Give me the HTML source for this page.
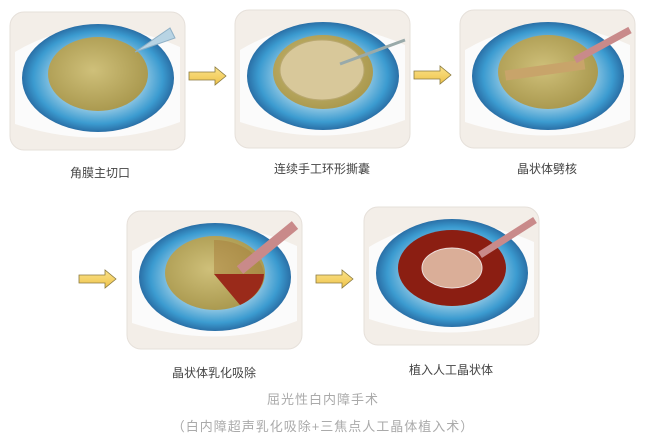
<!DOCTYPE html>
<html><head><meta charset="utf-8"><style>
body{margin:0;width:646px;height:448px;background:#fff;overflow:hidden;position:relative;font-family:"Liberation Sans","Noto Sans CJK SC",sans-serif}
.l{position:absolute;font-size:12px;color:#444;text-align:center;width:200px}
.c{position:absolute;font-size:13px;color:#aaa;text-align:center;width:646px;left:0;letter-spacing:1px}
svg{position:absolute;left:0;top:0}
</style></head><body>
<svg width="646" height="448">
<defs>
<radialGradient id="ir" cx="50%" cy="50%" r="50%"><stop offset="55%" stop-color="#9ccde6"/><stop offset="85%" stop-color="#3b9bd0"/><stop offset="100%" stop-color="#2a6fa6"/></radialGradient>
<radialGradient id="pu" cx="45%" cy="45%" r="55%"><stop offset="0%" stop-color="#cfc07a"/><stop offset="100%" stop-color="#ab9a50"/></radialGradient>
<linearGradient id="ar" x1="0" y1="0" x2="0" y2="1"><stop offset="0" stop-color="#fbe38a"/><stop offset="1" stop-color="#eec24a"/></linearGradient>
<g id="eye">
<rect x="0" y="0" width="175" height="138" rx="14" fill="#f3eee8" stroke="#e6e0da"/>
<path d="M5 40 Q80 -5 170 35 L170 110 Q90 140 5 112Z" fill="#fbfbfb"/>
<ellipse cx="88" cy="66" rx="76" ry="54" fill="url(#ir)"/>
<ellipse cx="88" cy="62" rx="50" ry="37" fill="url(#pu)"/>
</g>
<g id="arr"><path d="M0 5 H26 V0 L37 9 L26 18 V13 H0Z" fill="url(#ar)" stroke="#8a7a40" stroke-width="0.8"/></g>
</defs>
<use href="#eye" x="10" y="12"/>
<path d="M135 52 L170 28 L175 38 Z" fill="#b8d4e4" stroke="#8fb0c6"/>
<use href="#eye" x="235" y="10"/>
<ellipse cx="322" cy="70" rx="42" ry="30" fill="#d8c89a" stroke="#b9a870"/>
<line x1="340" y1="64" x2="405" y2="40" stroke="#9aa" stroke-width="3"/>
<use href="#eye" x="460" y="10"/>
<rect x="505" y="65" width="80" height="10" fill="#c8a46a" transform="rotate(-8 545 70)"/>
<line x1="575" y1="60" x2="630" y2="30" stroke="#c98a8a" stroke-width="7"/>
<use href="#eye" x="127" y="211"/>
<path d="M214 274 L214 240 A50 37 0 0 1 264 274Z" fill="#a77d3c" opacity=".5"/>
<path d="M214 274 L264 274 A50 37 0 0 1 240 305Z" fill="#9a2a1a"/>
<line x1="240" y1="270" x2="295" y2="225" stroke="#c98a8a" stroke-width="10"/>
<use href="#eye" x="364" y="207"/>
<ellipse cx="452" cy="268" rx="54" ry="38" fill="#8b1e12"/>
<ellipse cx="452" cy="268" rx="30" ry="20" fill="#e8c8b0" stroke="#fff" opacity=".85"/>
<line x1="480" y1="255" x2="535" y2="220" stroke="#c98a8a" stroke-width="7"/>
<use href="#arr" x="189" y="67"/>
<use href="#arr" x="414" y="66"/>
<use href="#arr" x="79" y="270"/>
<use href="#arr" x="316" y="270"/>
</svg>
<div class="l" style="left:0;top:164px">角膜主切口</div>
<div class="l" style="left:222px;top:160px">连续手工环形撕囊</div>
<div class="l" style="left:447px;top:160px">晶状体劈核</div>
<div class="l" style="left:114px;top:364px">晶状体乳化吸除</div>
<div class="l" style="left:351px;top:361px">植入人工晶状体</div>
<div class="c" style="top:389px">屈光性白内障手术</div>
<div class="c" style="top:416px">（白内障超声乳化吸除+三焦点人工晶体植入术）</div>
</body></html>
